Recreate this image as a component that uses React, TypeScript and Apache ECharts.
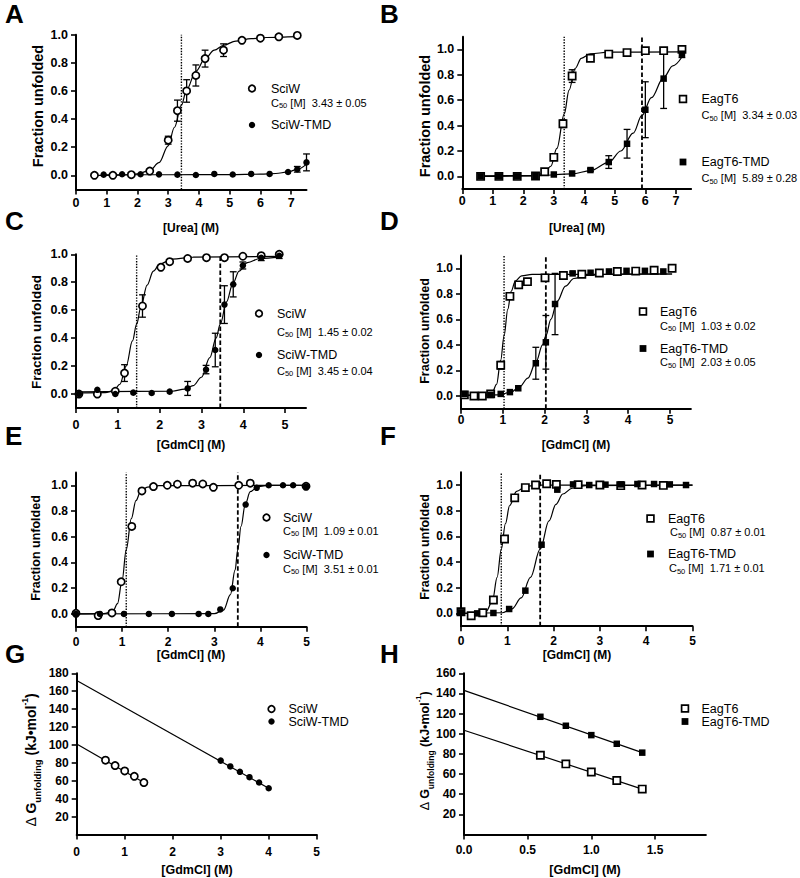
import React, { useEffect, useRef } from "react";
import * as echarts from "echarts";

const FONT = '"Liberation Sans", Arial, Helvetica, sans-serif';

// ===== Panel A : urea, SciW / SciW-TMD =====
const A_sciw_x = [0.6, 1.2, 1.8, 2.4, 3.0, 3.3, 3.6, 3.9, 4.2, 4.8, 5.4, 6.0, 6.6, 7.2];
const A_sciw_y = [0, 0, 0.005, 0.03, 0.25, 0.46, 0.6, 0.71, 0.83, 0.89, 0.96, 0.975, 0.985, 0.995];
const A_sciw_err = [0, 0, 0, 0, 0.028, 0.075, 0.08, 0.075, 0.06, 0.045, 0, 0, 0, 0];
const A_tmd_x = [0.9, 1.5, 2.1, 2.7, 3.3, 3.9, 4.5, 5.1, 5.7, 6.3, 6.9, 7.2, 7.5];
const A_tmd_y = [0.005, 0.008, 0.008, 0.007, 0.005, 0.002, 0.01, 0.006, 0.01, 0.01, 0.024, 0.043, 0.092];
const A_tmd_err = [0, 0, 0, 0, 0, 0, 0, 0, 0, 0, 0, 0.02, 0.06];
const A_sciw_fit = [[0.6, 0], [1.5, 0.002], [2.0, 0.01], [2.4, 0.035], [2.7, 0.09], [3.0, 0.21], [3.2, 0.34], [3.43, 0.5], [3.6, 0.61], [3.9, 0.74], [4.2, 0.83], [4.5, 0.89], [4.8, 0.925], [5.2, 0.955], [5.7, 0.972], [6.2, 0.98], [7.2, 0.986]];
const A_tmd_fit = [[0.9, 0.004], [3, 0.004], [5, 0.005], [6, 0.008], [6.5, 0.013], [6.9, 0.024], [7.2, 0.043], [7.5, 0.08]];
const A_c50 = [3.43];
const A_c50_text = ["3.43 ± 0.05"];

// ===== Panel B : urea, EagT6 / EagT6-TMD =====
const B_eag_x = [0.6, 1.2, 1.8, 2.4, 2.7, 3.0, 3.3, 3.6, 4.2, 4.8, 5.4, 6.0, 6.6, 7.2];
const B_eag_y = [0, 0, 0, 0.003, 0.037, 0.15, 0.415, 0.79, 0.93, 0.963, 0.975, 0.99, 0.99, 1.0];
const B_eag_err = [0, 0, 0, 0, 0, 0, 0.03, 0.05, 0.01, 0, 0, 0, 0, 0];
const B_tmd_x = [0.6, 1.2, 1.8, 2.4, 3.0, 3.6, 4.2, 4.8, 5.4, 6.0, 6.6, 7.2];
const B_tmd_y = [0, 0, 0, 0.005, 0.015, 0.023, 0.05, 0.113, 0.257, 0.525, 0.77, 0.966];
const B_tmd_err = [0, 0, 0, 0, 0, 0, 0.01, 0.05, 0.113, 0.22, 0.235, 0.03];
const B_eag_fit = [[0.6, 0], [2.4, 0.004], [2.7, 0.03], [2.9, 0.08], [3.1, 0.22], [3.34, 0.49], [3.5, 0.68], [3.7, 0.85], [3.9, 0.93], [4.2, 0.965], [4.8, 0.978], [7.2, 0.98]];
const B_tmd_fit = [[0.6, 0.005], [2.4, 0.006], [3.6, 0.02], [4.2, 0.045], [4.8, 0.11], [5.2, 0.2], [5.6, 0.34], [5.89, 0.48], [6.2, 0.62], [6.6, 0.78], [6.9, 0.87], [7.2, 0.94]];
const B_c50 = [3.34, 5.89];
const B_c50_text = ["3.34 ± 0.03", "5.89 ± 0.28"];

// ===== Panel C : GdmCl, SciW / SciW-TMD =====
const C_sciw_x = [0.07, 0.51, 0.94, 1.16, 1.59, 2.03, 2.24, 2.67, 3.12, 3.55, 3.99, 4.43, 4.86];
const C_sciw_y = [0.0, 0.0, 0.02, 0.15, 0.63, 0.907, 0.947, 0.97, 0.976, 0.976, 0.986, 0.99, 1.0];
const C_sciw_err = [0, 0, 0.01, 0.06, 0.08, 0, 0, 0, 0, 0, 0, 0, 0];
const C_tmd_x = [0.07, 0.51, 0.94, 1.37, 1.81, 2.24, 2.67, 3.11, 3.33, 3.55, 3.76, 3.99, 4.43, 4.86];
const C_tmd_y = [0.0, 0.03, 0.0, 0.01, 0.007, 0.017, 0.04, 0.175, 0.315, 0.64, 0.785, 0.92, 0.975, 0.99];
const C_tmd_err = [0, 0, 0, 0, 0, 0, 0.05, 0.03, 0.12, 0.135, 0.09, 0.025, 0.02, 0.02];
const C_sciw_fit = [[0.07, 0.008], [0.7, 0.01], [0.9, 0.025], [1.05, 0.07], [1.2, 0.2], [1.35, 0.38], [1.45, 0.5], [1.55, 0.62], [1.7, 0.78], [1.85, 0.88], [2.0, 0.93], [2.3, 0.965], [2.8, 0.98], [4.86, 0.985]];
const C_tmd_fit = [[0.07, 0.015], [2.3, 0.02], [2.6, 0.035], [2.8, 0.06], [3.0, 0.12], [3.2, 0.26], [3.35, 0.4], [3.45, 0.5], [3.6, 0.66], [3.75, 0.79], [3.9, 0.88], [4.1, 0.94], [4.4, 0.97], [4.86, 0.98]];
const C_c50 = [1.45, 3.45];
const C_c50_text = ["1.45 ± 0.02", "3.45 ± 0.04"];

// ===== Panel D : GdmCl, EagT6 / EagT6-TMD =====
const D_eag_x = [0.08, 0.31, 0.51, 0.71, 0.95, 1.17, 1.38, 1.59, 2.01, 2.45, 2.89, 3.31, 3.74, 4.18, 4.62, 5.05];
const D_eag_y = [0.008, 0, 0, 0.016, 0.24, 0.78, 0.87, 0.895, 0.925, 0.943, 0.953, 0.963, 0.975, 0.978, 0.985, 1.0];
const D_eag_err = [0, 0, 0, 0, 0.03, 0.02, 0, 0, 0, 0, 0, 0, 0, 0, 0, 0];
const D_tmd_x = [0.08, 0.71, 0.95, 1.17, 1.37, 1.79, 2.03, 2.25, 2.67, 3.1, 3.54, 3.96, 4.4, 4.84];
const D_tmd_y = [0.015, 0.008, 0.016, 0.03, 0.06, 0.256, 0.42, 0.72, 0.96, 0.965, 0.975, 0.98, 0.98, 0.975];
const D_tmd_err = [0, 0, 0, 0, 0, 0.125, 0.21, 0.24, 0.01, 0, 0, 0, 0, 0];
const D_eag_fit = [[0.08, 0.005], [0.6, 0.006], [0.75, 0.03], [0.85, 0.09], [0.95, 0.28], [1.03, 0.47], [1.12, 0.68], [1.2, 0.82], [1.3, 0.9], [1.45, 0.94], [1.7, 0.952], [5.05, 0.955]];
const D_tmd_fit = [[0.08, 0.005], [0.9, 0.008], [1.2, 0.03], [1.4, 0.07], [1.6, 0.14], [1.8, 0.27], [1.95, 0.4], [2.03, 0.47], [2.15, 0.6], [2.3, 0.74], [2.5, 0.86], [2.7, 0.92], [3.0, 0.945], [3.5, 0.953], [5.05, 0.955]];
const D_c50 = [1.03, 2.03];
const D_c50_text = ["1.03 ± 0.02", "2.03 ± 0.05"];

// ===== Panel E : GdmCl, SciW / SciW-TMD =====
const E_sciw_x = [0, 0.48, 0.78, 0.98, 1.21, 1.43, 1.68, 1.98, 2.2, 2.53, 2.75, 2.98, 3.53, 3.78, 4.99];
const E_sciw_y = [0.005, -0.013, 0.008, 0.25, 0.68, 0.956, 0.99, 1.0, 1.008, 1.016, 1.01, 0.984, 1.0, 1.016, 0.992];
const E_tmd_x = [0, 0.52, 1.04, 1.58, 2.08, 2.66, 2.87, 3.13, 3.4, 3.68, 3.92, 4.18, 4.49, 4.71, 4.99];
const E_tmd_y = [0, 0, 0, 0, 0, 0, 0, 0.035, 0.2, 0.85, 0.98, 1.0, 1.0, 1.0, 0.99];
const E_sciw_fit = [[0, 0], [0.6, 0.002], [0.8, 0.02], [0.9, 0.08], [1.0, 0.26], [1.09, 0.5], [1.2, 0.74], [1.3, 0.88], [1.4, 0.95], [1.55, 0.985], [1.8, 0.997], [5, 1.0]];
const E_tmd_fit = [[0, 0], [3.0, 0.002], [3.2, 0.03], [3.35, 0.15], [3.45, 0.34], [3.51, 0.5], [3.58, 0.68], [3.67, 0.85], [3.78, 0.95], [3.95, 0.99], [4.2, 1.0], [5, 1.0]];
const E_c50 = [1.09, 3.51];
const E_c50_text = ["1.09 ± 0.01", "3.51 ± 0.01"];

// ===== Panel F : GdmCl, EagT6 / EagT6-TMD =====
const F_eag_x = [0, 0.22, 0.47, 0.7, 0.94, 1.16, 1.39, 1.61, 1.85, 2.06, 2.53, 3.0, 3.45, 3.91, 4.37];
const F_eag_y = [0.013, -0.018, 0.005, 0.104, 0.58, 0.9, 0.98, 1.0, 1.01, 1.005, 1.003, 1.0, 0.995, 1.0, 0.997];
const F_tmd_x = [0, 0.35, 0.7, 1.04, 1.39, 1.74, 2.08, 2.42, 2.77, 3.12, 3.45, 3.81, 4.17, 4.51, 4.86];
const F_tmd_y = [0.008, 0, 0.003, 0.034, 0.177, 0.535, 0.964, 1.005, 1.0, 1.003, 1.005, 1.008, 1.008, 1.005, 1.0];
const F_eag_fit = [[0, 0], [0.4, 0.002], [0.55, 0.02], [0.68, 0.1], [0.78, 0.28], [0.87, 0.5], [0.96, 0.7], [1.05, 0.84], [1.2, 0.95], [1.4, 0.99], [1.7, 1.0], [5, 1.0]];
const F_tmd_fit = [[0, 0], [0.9, 0.005], [1.1, 0.035], [1.3, 0.12], [1.5, 0.28], [1.71, 0.5], [1.9, 0.72], [2.05, 0.85], [2.2, 0.93], [2.4, 0.975], [2.7, 0.995], [5, 1.0]];
const F_c50 = [0.87, 1.71];
const F_c50_text = ["0.87 ± 0.01", "1.71 ± 0.01"];

// ===== Panel G : ΔG vs GdmCl, SciW / SciW-TMD =====
const G_sciw_x = [0.6, 0.8, 1.0, 1.2, 1.4];
const G_sciw_y = [83, 77, 71, 65, 58];
const G_tmd_x = [3.0, 3.2, 3.4, 3.6, 3.8, 4.0];
const G_tmd_y = [82.5, 76, 70, 64, 58, 51.6];
const G_sciw_fit = [[0, 101], [1.4, 58]];
const G_tmd_fit = [[0, 172], [4.0, 51.6]];

// ===== Panel H : ΔG vs GdmCl, EagT6 / EagT6-TMD =====
const H_x = [0.6, 0.8, 1.0, 1.2, 1.4];
const H_eag_y = [78.6, 70, 62, 53.6, 45];
const H_tmd_y = [116.8, 107.9, 98.6, 90, 81.2];
const H_eag_fit = [[0, 103.4], [1.4, 45]];
const H_tmd_fit = [[0, 143], [1.4, 81.2]];

// ===== Tick labels =====
const X_TICKS_UREA = [0, 1, 2, 3, 4, 5, 6, 7];
const X_TICKS_GDM = [0, 1, 2, 3, 4, 5];
const X_TICKS_H = [0, 0.5, 1.0, 1.5];
const Y_TICKS_FRAC = [0, 0.2, 0.4, 0.6, 0.8, 1.0];
const Y_TICKS_G = [20, 40, 60, 80, 100, 120, 140, 160, 180];
const Y_TICKS_H = [20, 40, 60, 80, 100, 120, 140, 160];

// ===== Layout (pixel positions only) =====
type Spec = {
  left: number; top: number; width: number; height: number;
  xMin: number; xMax: number; xTicks: number[]; xMargin: number; xFmt: (v: number) => string;
  yMin: number; yMax: number; yTicks: number[]; yFmt: (v: number) => string; fs: number;
};
const f1 = (v: number) => v.toFixed(1);
const f0 = (v: number) => String(Math.round(v));
const SPECS: Spec[] = [
  { left: 76, top: 34.7, width: 230.5, height: 154.7, xMin: 0, xMax: 7.5, xTicks: X_TICKS_UREA, xMargin: 7, xFmt: f0, yMin: -0.1, yMax: 1.0, yTicks: Y_TICKS_FRAC, yFmt: f1, fs: 12.5 },
  { left: 462.3, top: 36.7, width: 228.8, height: 152.4, xMin: 0, xMax: 7.5, xTicks: X_TICKS_UREA, xMargin: 5, xFmt: f0, yMin: -0.1, yMax: 1.1, yTicks: Y_TICKS_FRAC, yFmt: f1, fs: 12.5 },
  { left: 76, top: 254.3, width: 230, height: 153.7, xMin: 0, xMax: 5.5, xTicks: X_TICKS_GDM, xMargin: 10, xFmt: f0, yMin: -0.1, yMax: 1.0, yTicks: Y_TICKS_FRAC, yFmt: f1, fs: 12.5 },
  { left: 461, top: 255.5, width: 229.9, height: 153.2, xMin: 0, xMax: 5.5, xTicks: X_TICKS_GDM, xMargin: 5, xFmt: f0, yMin: -0.1, yMax: 1.1, yTicks: Y_TICKS_FRAC, yFmt: f1, fs: 12 },
  { left: 76, top: 472.4, width: 230.5, height: 154.4, xMin: 0, xMax: 5, xTicks: X_TICKS_GDM, xMargin: 9, xFmt: f0, yMin: -0.1, yMax: 1.1, yTicks: Y_TICKS_FRAC, yFmt: f1, fs: 12 },
  { left: 461, top: 472.2, width: 231.5, height: 154, xMin: 0, xMax: 5, xTicks: X_TICKS_GDM, xMargin: 9, xFmt: f0, yMin: -0.1, yMax: 1.1, yTicks: Y_TICKS_FRAC, yFmt: f1, fs: 12 },
  { left: 76.7, top: 673.3, width: 240, height: 161.2, xMin: 0, xMax: 5, xTicks: X_TICKS_GDM, xMargin: 11, xFmt: f0, yMin: 0, yMax: 180, yTicks: Y_TICKS_G, yFmt: f0, fs: 12 },
  { left: 464, top: 673.3, width: 241.9, height: 161.1, xMin: 0, xMax: 1.9, xTicks: X_TICKS_H, xMargin: 10, xFmt: f1, yMin: 0, yMax: 160, yTicks: Y_TICKS_H, yFmt: f0, fs: 12 },
];

const pairs = (xs: number[], ys: number[]) => xs.map((x, i) => [x, ys[i]]);

function scatter(gi: number, xs: number[], ys: number[], sq: boolean, filled: boolean) {
  return {
    type: "scatter", xAxisIndex: gi, yAxisIndex: gi, data: pairs(xs, ys),
    symbol: sq ? "rect" : "circle", symbolSize: filled ? 6.5 : 7.2,
    itemStyle: { color: filled ? "#000" : "#fff", borderColor: "#000", borderWidth: filled ? 0 : 1.7, opacity: 1 },
    z: 6, silent: true, clip: false,
  };
}
function fit(gi: number, pts: number[][]) {
  return {
    type: "line", xAxisIndex: gi, yAxisIndex: gi, data: pts, smooth: 0.35, smoothMonotone: "x",
    symbol: "none", lineStyle: { color: "#000", width: 1.2 }, z: 3, silent: true, clip: false,
  };
}
function vline(gi: number, c: number, dotted: boolean) {
  const s = SPECS[gi];
  return {
    type: "line", xAxisIndex: gi, yAxisIndex: gi, data: [[c, s.yMin], [c, s.yMax]],
    symbol: "none", z: 2, silent: true, clip: false,
    lineStyle: { color: "#000", width: dotted ? 1.4 : 1.8, type: dotted ? [1.4, 1.4] : [4.5, 2.5] },
  };
}
function errbars(gi: number, xs: number[], ys: number[], es: number[]) {
  const data = xs.map((x, i) => [x, ys[i], es[i]]).filter((d) => d[2] > 0);
  return {
    type: "custom", xAxisIndex: gi, yAxisIndex: gi, data, z: 4, silent: true, clip: false,
    encode: { x: 0, y: 1 },
    renderItem: (_p: any, api: any) => {
      const x = api.value(0), y = api.value(1), e = api.value(2);
      const t = api.coord([x, y + e]);
      const b = api.coord([x, y - e]);
      const hw = 3.4;
      const style = { stroke: "#000", lineWidth: 1.3, fill: null };
      return {
        type: "group",
        children: [
          { type: "line", shape: { x1: t[0], y1: t[1], x2: b[0], y2: b[1] }, style },
          { type: "line", shape: { x1: t[0] - hw, y1: t[1], x2: t[0] + hw, y2: t[1] }, style },
          { type: "line", shape: { x1: b[0] - hw, y1: b[1], x2: b[0] + hw, y2: b[1] }, style },
        ],
      };
    },
  };
}

// ===== graphic helpers =====
function text(x: number, y: number, t: string, size: number, weight = "normal", align = "left", rich?: any, rotation = 0) {
  return {
    type: "text", x, y, rotation, silent: true,
    style: { text: t, fontSize: size, fontWeight: weight, fontFamily: FONT, fill: "#000", align, verticalAlign: "middle", rich },
  };
}
function marker(x: number, y: number, sq: boolean, filled: boolean) {
  const st = { fill: filled ? "#000" : "#fff", stroke: "#000", lineWidth: filled ? 0 : 1.7 };
  if (sq) return { type: "rect", silent: true, shape: { x: x - 3.4, y: y - 3.4, width: 6.8, height: 6.8 }, style: st };
  return { type: "circle", silent: true, shape: { cx: x, cy: y, r: filled ? 3.2 : 3.3 }, style: st };
}
function c50(x: number, y: number, val: string) {
  return text(x, y, "{c|C}{s|50}{c| [M]  " + val + "}", 11, "normal", "left", {
    c: { fontSize: 11, fontFamily: FONT, lineHeight: 14, verticalAlign: "middle" },
    s: { fontSize: 7.5, fontFamily: FONT, lineHeight: 8, verticalAlign: "bottom" },
  });
}
function fracTitle(x: number, y: number, size: number) {
  return text(x, y, "Fraction unfolded", size, "bold", "center", undefined, Math.PI / 2);
}
function dgTitle(x: number, y: number, size: number) {
  const sub = Math.round(size * 0.68 * 10) / 10;
  return text(x, y, "{d|Δ }{g|G}{s|unfolding}{g| (kJ•mol}{p|-1}{g|)}", size, "bold", "center", {
    d: { fontSize: size, fontFamily: FONT, fontWeight: "normal", lineHeight: size + 8, verticalAlign: "middle" },
    g: { fontSize: size, fontFamily: FONT, fontWeight: "bold", lineHeight: size + 8, verticalAlign: "middle" },
    s: { fontSize: sub, fontFamily: FONT, fontWeight: "bold", lineHeight: sub, verticalAlign: "bottom" },
    p: { fontSize: sub * 0.9, fontFamily: FONT, fontWeight: "bold", lineHeight: sub, verticalAlign: "top" },
  }, Math.PI / 2);
}

function buildOption() {
  const grid: any[] = [], xAxis: any[] = [], yAxis: any[] = [];
  SPECS.forEach((s, i) => {
    grid.push({ left: s.left, top: s.top, width: s.width, height: s.height, containLabel: false, outerBoundsMode: "none" });
    const common = {
      gridIndex: i, type: "value", splitLine: { show: false },
      axisLine: { show: true, onZero: false, lineStyle: { color: "#000", width: 2 } },
    };
    xAxis.push({
      ...common, min: s.xMin, max: s.xMax, position: "bottom",
      axisTick: { show: true, length: 5, customValues: s.xTicks, lineStyle: { color: "#000", width: 1.6 } },
      axisLabel: { customValues: s.xTicks, margin: s.xMargin, formatter: s.xFmt, color: "#000", fontWeight: "bold", fontSize: s.fs, fontFamily: FONT, showMinLabel: true, showMaxLabel: true, hideOverlap: false },
    });
    yAxis.push({
      ...common, min: s.yMin, max: s.yMax, position: "left",
      axisTick: { show: true, length: 5, customValues: s.yTicks, lineStyle: { color: "#000", width: 1.6 } },
      axisLabel: { customValues: s.yTicks, margin: 8, formatter: s.yFmt, color: "#000", fontWeight: "bold", fontSize: s.fs, fontFamily: FONT, showMinLabel: true, showMaxLabel: true, hideOverlap: false },
    });
  });

  const series: any[] = [
    // A
    fit(0, A_sciw_fit), fit(0, A_tmd_fit), vline(0, A_c50[0], true),
    errbars(0, A_sciw_x, A_sciw_y, A_sciw_err), errbars(0, A_tmd_x, A_tmd_y, A_tmd_err),
    scatter(0, A_sciw_x, A_sciw_y, false, false), scatter(0, A_tmd_x, A_tmd_y, false, true),
    // B
    fit(1, B_eag_fit), fit(1, B_tmd_fit), vline(1, B_c50[0], true), vline(1, B_c50[1], false),
    errbars(1, B_eag_x, B_eag_y, B_eag_err), errbars(1, B_tmd_x, B_tmd_y, B_tmd_err),
    scatter(1, B_eag_x, B_eag_y, true, false), scatter(1, B_tmd_x, B_tmd_y, true, true),
    // C
    fit(2, C_sciw_fit), fit(2, C_tmd_fit), vline(2, C_c50[0], true), vline(2, C_c50[1], false),
    errbars(2, C_sciw_x, C_sciw_y, C_sciw_err), errbars(2, C_tmd_x, C_tmd_y, C_tmd_err),
    scatter(2, C_sciw_x, C_sciw_y, false, false), scatter(2, C_tmd_x, C_tmd_y, false, true),
    // D
    fit(3, D_eag_fit), fit(3, D_tmd_fit), vline(3, D_c50[0], true), vline(3, D_c50[1], false),
    errbars(3, D_eag_x, D_eag_y, D_eag_err), errbars(3, D_tmd_x, D_tmd_y, D_tmd_err),
    scatter(3, D_eag_x, D_eag_y, true, false), scatter(3, D_tmd_x, D_tmd_y, true, true),
    // E
    fit(4, E_sciw_fit), fit(4, E_tmd_fit), vline(4, E_c50[0], true), vline(4, E_c50[1], false),
    scatter(4, E_sciw_x, E_sciw_y, false, false), scatter(4, E_tmd_x, E_tmd_y, false, true),
    // F
    fit(5, F_eag_fit), fit(5, F_tmd_fit), vline(5, F_c50[0], true), vline(5, F_c50[1], false),
    scatter(5, F_eag_x, F_eag_y, true, false), scatter(5, F_tmd_x, F_tmd_y, true, true),
    // G
    fit(6, G_sciw_fit), fit(6, G_tmd_fit),
    scatter(6, G_sciw_x, G_sciw_y, false, false), scatter(6, G_tmd_x, G_tmd_y, false, true),
    // H
    fit(7, H_eag_fit), fit(7, H_tmd_fit),
    scatter(7, H_x, H_eag_y, true, false), scatter(7, H_x, H_tmd_y, true, true),
  ];

  const graphic: any[] = [
    // panel letters
    text(5, 14, "A", 26, "bold"), text(380, 14, "B", 26, "bold"),
    text(5, 221, "C", 26, "bold"), text(380, 221, "D", 26, "bold"),
    text(5, 436, "E", 26, "bold"), text(380, 436, "F", 26, "bold"),
    text(5, 653.5, "G", 26, "bold"), text(380, 653.5, "H", 26, "bold"),
    // x titles
    text(191, 227.5, "[Urea] (M)", 12, "bold", "center"),
    text(577, 227.5, "[Urea] (M)", 12, "bold", "center"),
    text(191, 445, "[GdmCl] (M)", 12, "bold", "center"),
    text(576, 445, "[GdmCl] (M)", 12, "bold", "center"),
    text(191, 655, "[GdmCl] (M)", 12, "bold", "center"),
    text(577, 655, "[GdmCl] (M)", 12, "bold", "center"),
    text(197, 870, "[GdmCl] (M)", 12.5, "bold", "center"),
    text(585, 870, "[GdmCl] (M)", 12.5, "bold", "center"),
    // y titles
    fracTitle(38, 106, 14.5), fracTitle(425, 116, 14.5),
    fracTitle(36, 332, 13.5), fracTitle(425, 331, 12.5),
    fracTitle(36, 548, 12.5), fracTitle(425, 547, 12.5),
    dgTitle(31, 760, 14), dgTitle(425, 751, 12.5),
    // legend A
    marker(252, 88.5, false, false), text(271, 88.5, "SciW", 12.5), c50(271, 102.5, A_c50_text[0]),
    marker(252, 125, false, true), text(271, 125, "SciW-TMD", 12.5),
    // legend B
    marker(683, 99, true, false), text(701.5, 99, "EagT6", 12.5), c50(701.5, 115, B_c50_text[0]),
    marker(683, 162, true, true), text(701.5, 162, "EagT6-TMD", 12.5), c50(701.5, 178, B_c50_text[1]),
    // legend C
    marker(259, 313.5, false, false), text(277, 313.5, "SciW", 12.5), c50(277, 331.5, C_c50_text[0]),
    marker(259, 355, false, true), text(277, 355, "SciW-TMD", 12.5), c50(277, 370.5, C_c50_text[1]),
    // legend D
    marker(643, 311.5, true, false), text(660, 311.5, "EagT6", 12.5), c50(660, 325.5, D_c50_text[0]),
    marker(643, 348.5, true, true), text(660, 348.5, "EagT6-TMD", 12.5), c50(660, 362, D_c50_text[1]),
    // legend E
    marker(266.5, 517.5, false, false), text(283, 517.5, "SciW", 12.5), c50(283, 530.5, E_c50_text[0]),
    marker(266.5, 555, false, true), text(283, 555, "SciW-TMD", 12.5), c50(283, 568.5, E_c50_text[1]),
    // legend F
    marker(650.5, 518.5, true, false), text(668, 518.5, "EagT6", 12.5), c50(670, 532, F_c50_text[0]),
    marker(650.5, 554, true, true), text(668, 554, "EagT6-TMD", 12.5), c50(669, 568, F_c50_text[1]),
    // legend G
    marker(271.5, 709, false, false), text(288.5, 709, "SciW", 12.5),
    marker(271.5, 721.5, false, true), text(288.5, 721.5, "SciW-TMD", 12.5),
    // legend H
    marker(685, 708.5, true, false), text(701.5, 708.5, "EagT6", 12.5),
    marker(685, 721.5, true, true), text(701.5, 721.5, "EagT6-TMD", 12.5),
  ];

  return { animation: false, backgroundColor: "#fff", grid, xAxis, yAxis, series, graphic };
}

export default function App() {
  const ref = useRef<HTMLDivElement>(null);
  useEffect(() => {
    if (!ref.current) return;
    const chart = echarts.init(ref.current, undefined, { renderer: "svg" });
    chart.setOption(buildOption() as any);
    return () => chart.dispose();
  }, []);
  return <div ref={ref} style={{ position: "absolute", left: 0, top: 0, width: 800, height: 878 }} />;
}
